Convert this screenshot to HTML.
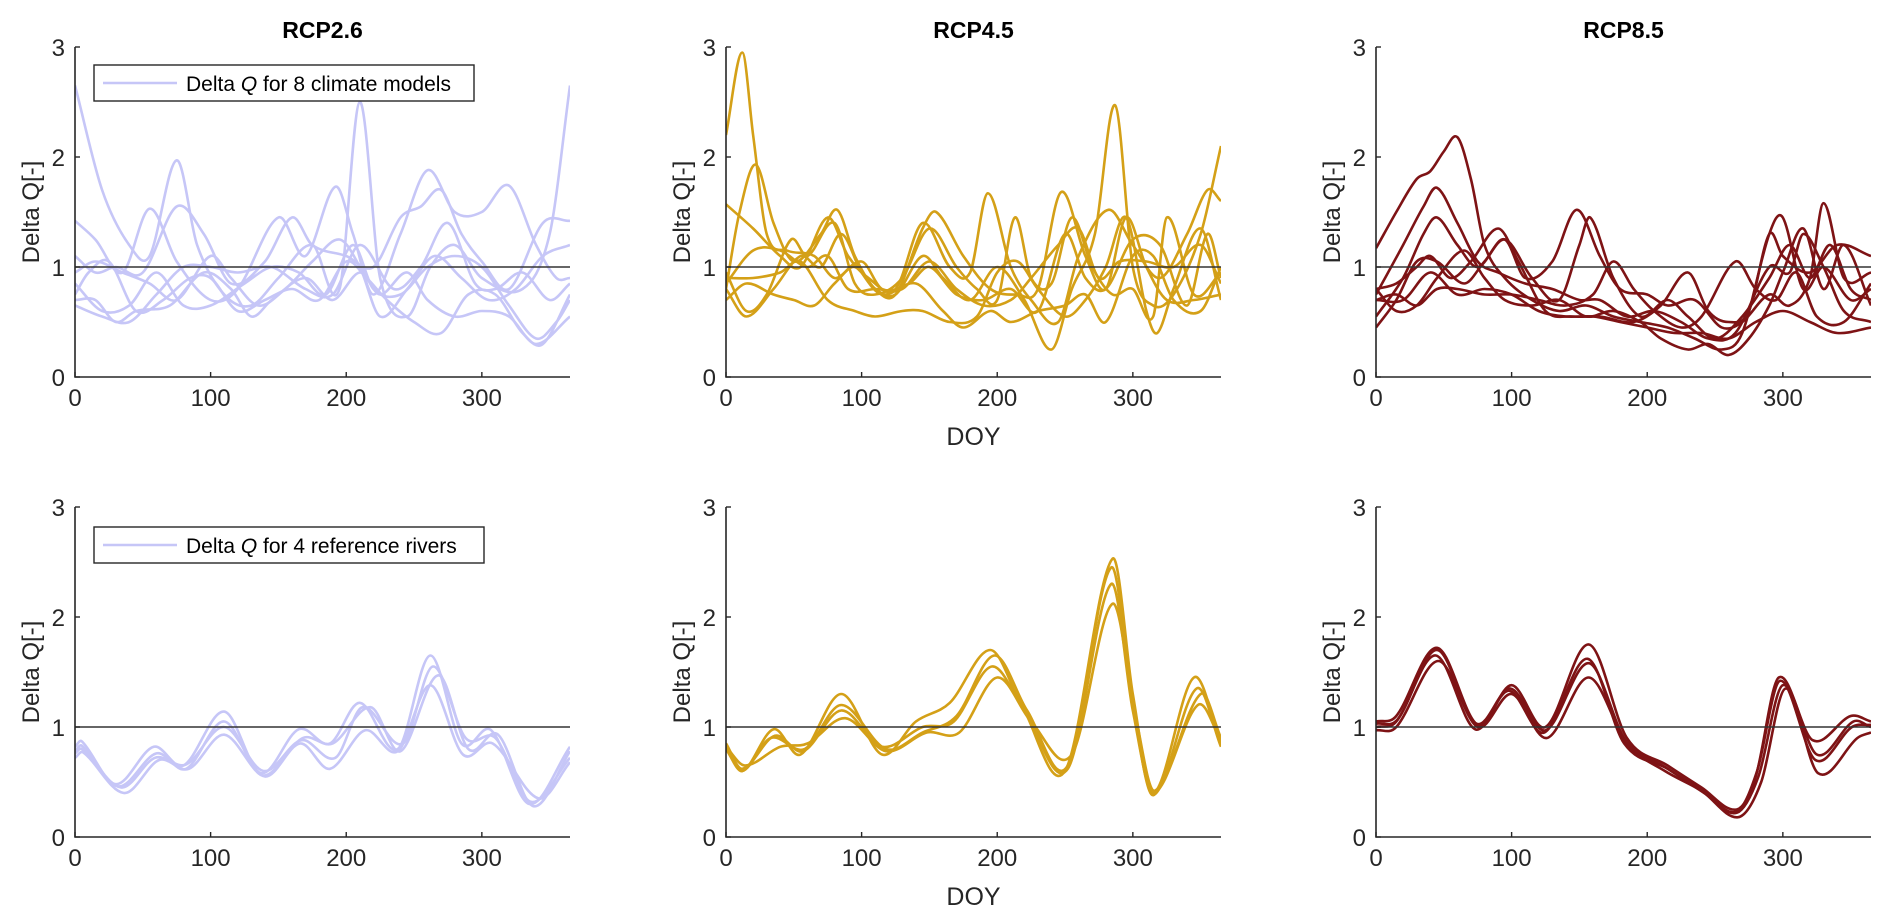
<!DOCTYPE html>
<html><head><meta charset="utf-8"><style>
html,body{margin:0;padding:0;background:#fff;}
svg{display:block;font-family:"Liberation Sans",sans-serif;}
</style></head><body>
<svg id="fig" width="1892" height="922" viewBox="0 0 1892 922"></svg>
<script>
// ---- data (DOY, DeltaQ) knot pairs ----
const xTicks = [0,100,200,300];
const yTicks = [0,1,2,3];
const titles = ["RCP2.6","RCP4.5","RCP8.5"];
const colors = ["#c6c6f7","#d4a017","#7e1315"];

const rcp26Models = [
 [[0,2.65],[20,1.7],[40,1.2],[55,1.1],[75,1.97],[90,1.2],[110,0.75],[130,0.65],[150,0.9],[175,1.2],[195,0.8],[210,2.5],[225,0.9],[245,0.55],[262,1.0],[280,1.2],[300,0.9],[330,0.8],[350,1.3],[365,2.65]],
 [[0,1.42],[15,1.25],[35,0.95],[55,1.53],[75,1.05],[100,0.7],[120,0.8],[150,1.45],[170,1.1],[192,1.73],[205,1.3],[220,0.75],[240,1.3],[260,1.88],[280,1.5],[300,1.5],[320,1.74],[340,1.2],[355,0.9],[365,0.9]],
 [[0,1.1],[15,0.95],[30,1.0],[50,0.95],[75,1.55],[95,1.3],[115,0.85],[140,1.05],[160,1.45],[175,1.2],[200,1.1],[220,1.0],[240,1.45],[255,1.55],[270,1.7],[285,1.3],[300,1.05],[320,0.8],[345,1.4],[365,1.42]],
 [[0,0.95],[15,1.05],[35,0.95],[55,0.85],[75,0.7],[100,1.1],[115,0.9],[135,0.65],[155,0.8],[175,1.05],[195,1.25],[210,1.0],[225,0.55],[245,0.8],[265,1.1],[285,0.9],[305,0.7],[325,0.8],[345,1.1],[365,1.2]],
 [[0,0.85],[20,0.6],[40,0.65],[60,0.95],[80,0.65],[100,0.65],[125,0.85],[145,1.0],[165,0.95],[185,0.75],[205,1.2],[220,0.8],[240,0.75],[260,1.0],[280,1.1],[300,1.0],[320,0.65],[340,0.35],[355,0.5],[365,0.7]],
 [[0,0.7],[15,0.7],[30,0.5],[45,0.6],[70,0.65],[95,0.95],[115,0.8],[130,0.55],[145,0.7],[170,0.9],[190,0.7],[210,0.95],[225,0.75],[245,0.95],[260,0.7],[280,0.55],[300,0.6],[320,0.55],[340,0.3],[365,0.55]],
 [[0,0.75],[10,0.95],[25,1.05],[45,0.6],[65,0.7],[85,0.9],[100,0.9],[120,0.6],[140,0.7],[160,0.8],[180,0.7],[200,1.05],[215,0.9],[230,0.7],[250,0.5],[270,0.4],[290,0.75],[310,0.75],[330,0.4],[345,0.3],[365,0.75]],
 [[0,0.65],[20,0.55],[40,0.5],[60,0.75],[80,1.0],[100,1.0],[120,0.95],[145,1.0],[170,0.8],[190,0.75],[210,1.2],[235,0.8],[255,1.0],[275,1.4],[295,0.85],[310,0.8],[330,0.95],[350,0.7],[365,0.85]]
];
const rcp45Models = [
 [[0,2.2],[12,2.95],[20,2.2],[30,1.3],[45,1.15],[65,1.1],[80,0.9],[95,1.0],[110,0.8],[125,0.75],[145,1.1],[160,0.9],[180,0.7],[200,1.0],[220,0.7],[240,0.25],[255,0.8],[272,1.3],[287,2.47],[300,1.0],[315,0.65],[330,0.75],[350,1.3],[365,2.1]],
 [[0,0.8],[10,1.5],[22,1.93],[35,1.4],[50,1.05],[70,1.3],[82,1.52],[95,1.1],[110,0.8],[125,0.75],[145,1.35],[155,1.5],[175,1.1],[195,0.8],[215,0.75],[230,0.8],[247,1.68],[265,1.1],[280,0.8],[295,1.45],[310,1.0],[325,0.7],[345,0.7],[365,0.75]],
 [[0,1.57],[20,1.35],[40,1.1],[55,1.0],[75,1.45],[90,1.1],[105,0.9],[125,0.8],[145,1.4],[165,1.0],[180,0.95],[193,1.67],[210,1.0],[225,0.7],[245,0.5],[260,1.1],[282,1.52],[300,1.2],[320,0.9],[340,1.3],[355,1.7],[365,1.6]],
 [[0,0.95],[15,0.6],[30,0.75],[48,1.25],[60,1.1],[80,1.4],[95,0.85],[110,0.75],[130,0.9],[150,1.35],[170,1.0],[185,0.8],[200,0.7],[213,1.45],[225,0.9],[240,0.85],[255,1.45],[270,1.0],[285,0.75],[300,0.8],[315,0.55],[325,1.45],[345,0.75],[365,0.95]],
 [[0,0.85],[20,1.15],[40,1.15],[60,1.0],[75,1.1],[90,0.8],[110,0.8],[130,0.8],[150,1.05],[170,0.8],[190,0.65],[210,0.7],[225,0.9],[245,1.2],[260,1.35],[275,0.9],[290,1.05],[310,1.05],[330,1.0],[350,1.2],[365,0.85]],
 [[0,0.9],[20,0.9],[40,0.95],[55,1.05],[75,0.7],[95,0.6],[110,0.55],[130,0.6],[145,0.6],[165,0.5],[185,0.55],[200,0.95],[215,1.05],[230,0.8],[250,0.55],[265,0.7],[280,1.0],[295,1.45],[310,0.6],[318,0.4],[330,0.8],[350,1.35],[365,0.7]],
 [[0,0.8],[15,0.55],[35,0.8],[55,1.1],[70,1.0],[85,1.3],[100,0.95],[115,0.75],[140,0.85],[160,0.6],[175,0.45],[195,0.6],[210,0.5],[230,0.6],[250,0.65],[265,0.75],[280,0.5],[300,1.1],[315,1.1],[330,0.7],[350,0.6],[365,1.0]],
 [[0,0.7],[15,0.85],[35,0.75],[50,0.7],[65,0.65],[80,0.85],[100,1.05],[115,0.8],[135,0.85],[150,1.0],[170,0.75],[190,0.7],[210,0.8],[230,0.6],[250,1.3],[265,0.9],[280,0.8],[300,1.25],[320,1.2],[340,0.65],[355,1.3],[365,0.9]]
];
const rcp85Models = [
 [[0,1.17],[15,1.5],[30,1.8],[40,1.87],[50,2.05],[60,2.18],[70,1.8],[80,1.2],[95,0.9],[115,0.7],[135,0.6],[155,0.65],[175,0.55],[195,0.5],[215,0.45],[235,0.35],[255,0.25],[270,0.4],[290,1.3],[300,1.45],[315,0.8],[330,1.0],[350,0.7],[365,0.8]],
 [[0,0.75],[20,1.2],[35,1.55],[45,1.72],[60,1.4],[75,1.05],[90,0.95],[110,0.85],[130,0.8],[150,0.7],[165,0.7],[185,0.55],[205,0.6],[225,0.5],[245,0.35],[265,0.4],[290,1.0],[305,0.95],[315,1.3],[330,1.0],[345,0.6],[365,0.5]],
 [[0,0.55],[20,0.9],[35,1.3],[45,1.45],[60,1.2],[75,1.0],[95,1.25],[115,0.9],[135,0.7],[150,1.2],[158,1.45],[175,0.9],[195,0.55],[215,0.7],[230,0.55],[250,0.35],[270,0.55],[290,0.9],[305,1.2],[320,0.9],[335,1.2],[350,0.8],[365,0.7]],
 [[0,0.45],[15,0.7],[30,1.05],[45,1.05],[65,0.85],[80,1.05],[95,1.25],[110,0.9],[130,1.05],[148,1.52],[165,1.1],[180,0.8],[200,0.75],[215,0.65],[235,0.7],[255,0.45],[270,0.5],[290,0.75],[305,0.65],[320,0.9],[330,1.58],[345,0.9],[365,0.95]],
 [[0,0.8],[15,0.85],[30,1.0],[40,1.1],[55,0.9],[70,1.05],[90,1.35],[105,1.05],[125,0.6],[145,0.55],[165,0.55],[190,0.5],[210,0.65],[230,0.95],[245,0.6],[260,0.5],[275,0.6],[290,1.3],[300,1.1],[320,0.95],[340,1.2],[365,1.1]],
 [[0,0.7],[15,0.75],[30,0.65],[45,0.8],[60,0.8],[80,0.75],[100,0.75],[120,0.7],[140,0.65],[160,0.75],[175,1.05],[190,0.8],[205,0.6],[225,0.45],[240,0.55],[265,1.05],[280,0.8],[295,0.7],[310,0.95],[325,0.55],[345,0.5],[365,0.85]],
 [[0,0.8],[15,0.6],[30,0.65],[45,0.9],[65,1.15],[80,0.9],[95,0.7],[115,0.65],[135,0.7],[155,0.55],[175,0.6],[195,0.5],[210,0.35],[230,0.25],[245,0.3],[260,0.2],[275,0.35],[290,0.65],[300,0.95],[315,1.35],[330,0.8],[345,1.2],[365,0.65]],
 [[0,0.7],[20,0.7],[40,0.95],[60,0.75],[80,0.8],[100,0.75],[120,0.6],[140,0.55],[160,0.55],[180,0.5],[200,0.45],[220,0.4],[240,0.4],[260,0.35],[280,0.5],[300,0.6],[320,0.5],[340,0.4],[365,0.45]]
];
const rcp26Rivers = [
 [[0,0.82],[5,0.87],[30,0.48],[58,0.82],[80,0.65],[110,1.14],[137,0.58],[165,0.98],[188,0.85],[210,1.22],[238,0.8],[262,1.65],[285,0.85],[307,0.97],[335,0.3],[365,0.82]],
 [[0,0.78],[5,0.83],[32,0.46],[60,0.76],[82,0.62],[110,1.05],[138,0.56],[168,0.9],[190,0.85],[218,1.18],[240,0.78],[268,1.47],[290,0.8],[312,0.93],[338,0.28],[365,0.78]],
 [[0,0.72],[6,0.77],[36,0.4],[62,0.7],[84,0.62],[110,0.93],[140,0.55],[166,0.85],[188,0.62],[214,0.97],[238,0.78],[262,1.38],[286,0.75],[308,0.85],[342,0.35],[365,0.68]],
 [[0,0.76],[5,0.8],[34,0.45],[59,0.72],[82,0.66],[110,1.0],[139,0.6],[167,0.88],[192,0.72],[212,1.18],[242,0.85],[264,1.55],[288,0.9],[310,0.9],[336,0.32],[365,0.72]]
];
const rcp45Rivers = [
 [[0,0.85],[12,0.6],[35,0.98],[55,0.75],[85,1.3],[115,0.75],[140,1.05],[165,1.22],[195,1.7],[218,1.2],[250,0.6],[285,2.53],[300,1.3],[315,0.4],[345,1.45],[365,0.85]],
 [[0,0.8],[12,0.6],[33,0.9],[58,0.8],[85,1.2],[118,0.8],[145,0.95],[170,1.1],[198,1.65],[222,1.15],[252,0.65],[284,2.45],[300,1.2],[315,0.38],[347,1.35],[365,0.82]],
 [[0,0.82],[14,0.65],[40,0.82],[60,0.85],[88,1.08],[118,0.78],[148,0.95],[172,0.95],[200,1.45],[225,1.05],[255,0.75],[285,2.12],[302,1.1],[316,0.42],[350,1.3],[365,0.9]],
 [[0,0.85],[12,0.62],[36,0.92],[57,0.78],[85,1.15],[115,0.82],[145,1.0],[168,1.05],[196,1.55],[220,1.15],[252,0.62],[284,2.3],[300,1.15],[315,0.4],[348,1.2],[365,0.88]]
];
const rcp85Rivers = [
 [[0,1.05],[15,1.1],[45,1.72],[75,1.02],[100,1.38],[125,1.0],[157,1.75],[185,0.9],[215,0.65],[240,0.45],[266,0.25],[280,0.55],[297,1.45],[322,0.88],[350,1.1],[365,1.05]],
 [[0,1.0],[15,1.05],[44,1.65],[73,0.98],[98,1.33],[124,0.95],[156,1.62],[183,0.85],[215,0.62],[242,0.4],[266,0.22],[282,0.55],[300,1.38],[325,0.75],[352,1.05],[365,1.0]],
 [[0,0.97],[15,1.0],[46,1.6],[75,1.0],[100,1.3],[126,0.9],[157,1.45],[185,0.85],[213,0.6],[240,0.42],[267,0.18],[284,0.5],[302,1.35],[326,0.58],[355,0.9],[365,0.95]],
 [[0,1.03],[16,1.07],[45,1.7],[74,1.03],[99,1.35],[125,0.97],[157,1.58],[184,0.88],[214,0.63],[241,0.42],[266,0.23],[281,0.6],[298,1.42],[324,0.7],[351,1.0],[365,1.02]]
];

const panels = [
 {row:0,col:0,data:rcp26Models,ylab:true},
 {row:0,col:1,data:rcp45Models,ylab:true,doy:true},
 {row:0,col:2,data:rcp85Models,ylab:true},
 {row:1,col:0,data:rcp26Rivers,ylab:true},
 {row:1,col:1,data:rcp45Rivers,ylab:true,doy:true},
 {row:1,col:2,data:rcp85Rivers,ylab:true}
];

const NS="http://www.w3.org/2000/svg";
const svg=document.getElementById('fig');
const X0=[75,726,1376], PW=495;
const YTOP=[47,507], PH=330;
function mk(tag,attrs,parent){const e=document.createElementNS(NS,tag);for(const k in attrs)e.setAttribute(k,attrs[k]);(parent||svg).appendChild(e);return e;}

function smoothPath(pts,sx,sy){
  const n=pts.length; const m=[];
  for(let i=0;i<n;i++){
    if(i===0) m.push((pts[1][1]-pts[0][1])/(pts[1][0]-pts[0][0]));
    else if(i===n-1) m.push((pts[n-1][1]-pts[n-2][1])/(pts[n-1][0]-pts[n-2][0]));
    else m.push((pts[i+1][1]-pts[i-1][1])/(pts[i+1][0]-pts[i-1][0]));
  }
  let d="M"+sx(pts[0][0]).toFixed(1)+","+sy(pts[0][1]).toFixed(1);
  for(let i=0;i<n-1;i++){
    const h=pts[i+1][0]-pts[i][0];
    const c1x=pts[i][0]+h/3,c1y=pts[i][1]+m[i]*h/3;
    const c2x=pts[i+1][0]-h/3,c2y=pts[i+1][1]-m[i+1]*h/3;
    d+=" C"+sx(c1x).toFixed(1)+","+sy(c1y).toFixed(1)+" "+sx(c2x).toFixed(1)+","+sy(c2y).toFixed(1)+" "+sx(pts[i+1][0]).toFixed(1)+","+sy(pts[i+1][1]).toFixed(1);
  }
  return d;
}

panels.forEach((p,pi)=>{
  const x0=X0[p.col], y0=YTOP[p.row];
  const sx=v=>x0+v/365*PW;
  const sy=v=>y0+PH-v/3*PH;
  const g=mk('g',{});
  
  
  const cp=mk('clipPath',{id:'cp'+pi},g);
  mk('rect',{x:x0,y:y0,width:PW,height:PH},cp);
  const lines=mk('g',{'clip-path':'url(#cp'+pi+')'},g);
  p.data.forEach((s,si)=>{
    const path=mk('path',{d:smoothPath(s,sx,sy),fill:'none',stroke:colors[p.col],'stroke-width':2.6,'stroke-linejoin':'round'},lines);
    
    
  });
  const ref=mk('line',{x1:sx(0),x2:sx(365),y1:sy(1),y2:sy(1),stroke:'#333',"stroke-width":1.6},g);
  
  
  const ax=mk('path',{d:`M${x0},${y0} V${y0+PH} H${x0+PW}`,fill:'none',stroke:'#262626','stroke-width':1.6},g);
  
  
  xTicks.forEach(t=>{
    mk('line',{x1:sx(t),x2:sx(t),y1:y0+PH,y2:y0+PH-5,stroke:'#262626','stroke-width':1.4},g);
    const tx=mk('text',{x:sx(t),y:y0+PH+29,'text-anchor':'middle','font-size':24,fill:'#262626'},g);
    tx.textContent=t;
    
    
  });
  yTicks.forEach(t=>{
    mk('line',{x1:x0,x2:x0+5,y1:sy(t),y2:sy(t),stroke:'#262626','stroke-width':1.4},g);
    const ty=mk('text',{x:x0-10,y:sy(t)+9,'text-anchor':'end','font-size':24,fill:'#262626'},g);
    ty.textContent=t;
    
    
  });
  if(p.ylab){
    const yl=mk('text',{x:0,y:0,transform:`translate(${x0-36},${y0+165}) rotate(-90)`,'text-anchor':'middle','font-size':24,fill:'#262626'},g);
    yl.textContent='Delta Q[-]';
    
    
  }
  if(p.doy){
    const dl=mk('text',{x:x0+PW/2,y:y0+PH+68,'text-anchor':'middle','font-size':25,fill:'#262626'},g);
    dl.textContent='DOY';
    
    
  }
  if(p.row===0){
    const tt=mk('text',{x:x0+PW/2,y:38,'text-anchor':'middle','font-size':23,'font-weight':'bold',fill:'#000'},g);
    tt.textContent=titles[p.col];
    
    
  }
  if(p.col===0){
    const ly=p.row===0?65:527, lw=p.row===0?380:390;
    const lg=mk('g',{},g);
    
    
    mk('rect',{x:94,y:ly,width:lw,height:36,fill:'#fff',stroke:'#262626','stroke-width':1.4},lg);
    mk('line',{x1:103,x2:177,y1:ly+18,y2:ly+18,stroke:colors[0],'stroke-width':2.6},lg);
    const lt=mk('text',{x:186,y:ly+26,'font-size':21,fill:'#000'},lg);
    lt.innerHTML='Delta <tspan font-style="italic">Q</tspan> for '+(p.row===0?'8 climate models':'4 reference rivers');
    
    
  }
});
</script>
</body></html>
